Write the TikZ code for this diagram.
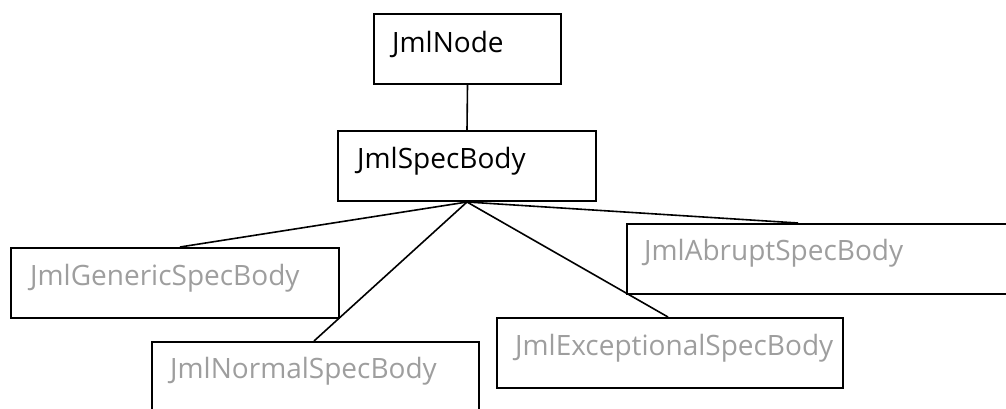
\documentclass[tikz,border=0pt]{standalone}
\usepackage{fontspec}
\setmainfont{Open Sans}
\definecolor{subtext}{RGB}{158,158,158}
\begin{document}
\begin{tikzpicture}[x=1pt,y=-1pt,
  box/.style={draw,line width=2pt,anchor=north west,inner sep=0pt,
    minimum width=#1},
  boxh/.style={minimum height=70pt},
  lbl/.style={anchor=base west,inner sep=0pt,font=\fontsize{28}{30}\selectfont},
  sub/.style={lbl,text=subtext},
  link/.style={line width=1.6pt}]
\useasboundingbox (0,0) rectangle (1006,408);
\clip (0,0) rectangle (1006,408);
% class boxes
\node[box=187pt,boxh] (node) at (373,13) {};
\node[box=258pt,boxh] (spec) at (337,130) {};
\node[box=328pt,boxh] (generic) at (10,247) {};
\node[box=327pt,boxh] (normal) at (151,341) {};
\node[box=346pt,boxh] (exceptional) at (496,317) {};
\node[box=390pt,boxh] (abrupt) at (626,223) {};
% class names
\node[lbl] (tnode) at ([shift={(19,39)}]node.north west) {JmlNode};
\node[lbl] (tspec) at ([shift={(20,38)}]spec.north west) {JmlSpecBody};
\node[sub] (tgeneric) at ([shift={(20,38)}]generic.north west) {JmlGenericSpecBody};
\node[sub] (tnormal) at ([shift={(19,37)}]normal.north west) {JmlNormalSpecBody};
\node[sub] (texceptional) at ([shift={(19,38)}]exceptional.north west) {JmlExceptionalSpecBody};
\node[sub] (tabrupt) at ([shift={(18,37)}]abrupt.north west) {JmlAbruptSpecBody};
% hierarchy links
\draw[link] (node.south) -- (spec.north);
\draw[link] (spec.south) -- ([xshift=170pt]generic.north west);
\draw[link] (spec.south) -- ([xshift=163pt]normal.north west);
\draw[link] (spec.south) -- ([xshift=172pt]exceptional.north west);
\draw[link] (spec.south) -- ([xshift=172pt]abrupt.north west);
\end{tikzpicture}
\end{document}
